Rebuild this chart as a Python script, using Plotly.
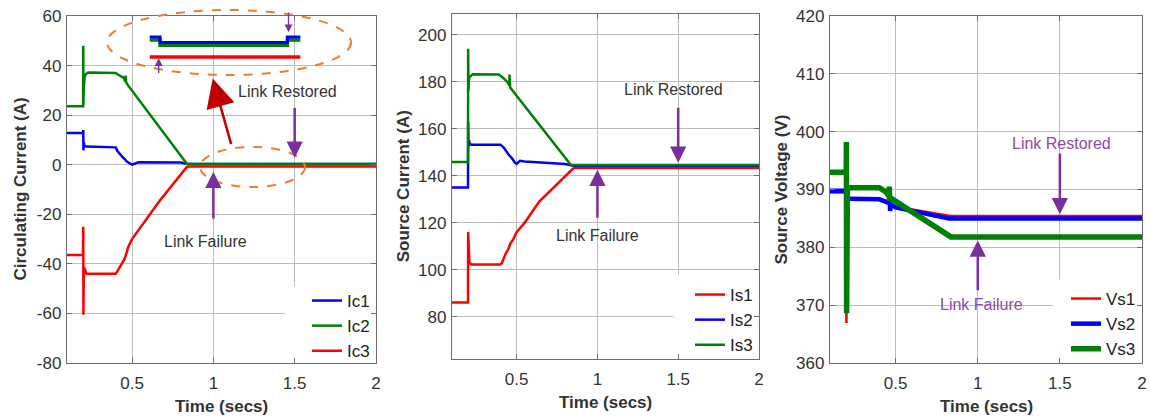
import plotly.graph_objects as go

# ---------------- data ----------------
# Circulating currents (A)
t_ic1 = [0.10, 0.199, 0.200, 0.201, 0.203, 0.208, 0.22, 0.40, 0.41, 0.43, 0.455, 0.47, 0.50, 0.52, 0.54, 0.80, 0.84, 2.00]
ic1 = [12.8, 12.8, 14.0, 5.8, 9.0, 7.5, 7.3, 7.0, 5.5, 4.0, 2.5, 1.2, 0.0, 0.6, 1.0, 0.9, 0.3, 0.3]

t_ic2 = [0.10, 0.199, 0.200, 0.201, 0.203, 0.208, 0.215, 0.23, 0.40, 0.41, 0.45, 0.458, 0.460, 0.463, 0.47, 0.838, 2.00]
ic2 = [23.6, 23.6, 48.0, 24.0, 31.0, 35.0, 36.5, 37.2, 37.0, 36.5, 35.0, 33.5, 36.0, 33.5, 32.5, 0.3, 0.3]

t_ic3 = [0.10, 0.199, 0.200, 0.201, 0.203, 0.206, 0.21, 0.22, 0.40, 0.41, 0.43, 0.45, 0.46, 0.475, 0.50, 0.67, 0.836, 0.85, 2.00]
ic3 = [-36.4, -36.4, -25.0, -60.5, -45.0, -41.5, -42.5, -44.0, -44.0, -43.0, -40.5, -38.5, -37.0, -33.5, -30.0, -14.5, -1.0, -0.7, -0.7]

# magnified view of the 0.9 s - 1.6 s window, drawn at the top of the first panel
t_zoom = [0.609, 0.672, 0.672, 1.455, 1.455, 1.535]
ic1_zoom = [51.5, 51.5, 49.3, 49.3, 51.5, 51.5]
ic2_zoom = [50.3, 50.3, 48.2, 48.2, 50.3, 50.3]
t_zoom3 = [0.609, 1.535]
ic3_zoom = [43.5, 43.5]

# Source currents (A)
t_is1 = [0.10, 0.199, 0.200, 0.203, 0.208, 0.22, 0.40, 0.41, 0.43, 0.45, 0.46, 0.48, 0.50, 0.55, 0.64, 0.849, 0.86, 2.00]
is1 = [86.0, 86.0, 116.0, 106.0, 103.0, 102.2, 102.2, 103.0, 106.5, 109.0, 111.0, 113.0, 116.0, 120.0, 129.0, 143.0, 143.3, 143.3]

t_is2 = [0.10, 0.199, 0.200, 0.202, 0.206, 0.21, 0.22, 0.40, 0.42, 0.45, 0.47, 0.49, 0.50, 0.52, 0.55, 0.80, 0.85, 2.00]
is2 = [135.0, 135.0, 163.0, 152.0, 155.0, 153.5, 153.2, 153.2, 152.0, 149.0, 147.5, 145.5, 145.0, 146.3, 146.0, 145.0, 144.2, 144.2]

t_is3 = [0.10, 0.199, 0.200, 0.202, 0.204, 0.208, 0.22, 0.23, 0.39, 0.41, 0.44, 0.455, 0.456, 0.458, 0.46, 0.836, 2.00]
is3 = [145.8, 145.8, 194.0, 176.0, 180.0, 182.0, 182.8, 183.2, 183.0, 182.0, 180.0, 178.5, 183.0, 177.5, 177.5, 144.5, 144.5]

# Source voltages (V)
t_vs1 = [0.10, 0.199, 0.200, 0.202, 0.206, 0.22, 0.40, 0.45, 0.47, 0.50, 0.83, 2.00]
vs1 = [389.5, 389.5, 366.9, 386.0, 388.5, 388.5, 388.4, 387.9, 387.5, 387.0, 385.4, 385.4]

t_vs2 = [0.10, 0.199, 0.200, 0.202, 0.206, 0.22, 0.40, 0.465, 0.466, 0.468, 0.47, 0.50, 0.825, 2.00]
vs2 = [389.8, 389.8, 386.0, 389.0, 388.4, 388.4, 388.3, 387.6, 386.3, 387.5, 387.4, 386.9, 385.0, 385.0]

t_vs3 = [0.10, 0.199, 0.200, 0.201, 0.203, 0.206, 0.22, 0.40, 0.44, 0.46, 0.461, 0.463, 0.465, 0.836, 2.00]
vs3 = [393.0, 393.0, 398.2, 368.6, 388.0, 390.3, 390.3, 390.3, 389.6, 388.8, 390.5, 388.0, 388.6, 381.8, 381.8]

x_ticks = [0.5, 1, 1.5, 2]
x_tick_text = ["0.5", "1", "1.5", "2"]
y1_ticks = [-80, -60, -40, -20, 0, 20, 40, 60]
y1_tick_text = ["-80", "-60", "-40", "-20", "0", "20", "40", "60"]
y2_ticks = [80, 100, 120, 140, 160, 180, 200]
y2_tick_text = ["80", "100", "120", "140", "160", "180", "200"]
y3_ticks = [360, 370, 380, 390, 400, 410, 420]
y3_tick_text = ["360", "370", "380", "390", "400", "410", "420"]

BLUE, GREEN, RED = "#0000ff", "#008000", "#ff0000"
PURPLE = "#7b2f9e"
ORANGE = "#ed7d31"
TEXT = "#333333"
W, H = 1150, 417
FONT = "Liberation Sans, Arial, sans-serif"


def px(x):
    return x / W


def py(y):
    return 1 - y / H


fig = go.Figure()


def line(t, v, name, color, width, xa, ya, legend="legend", show=True):
    fig.add_trace(go.Scatter(
        x=t, y=v, name=name, mode="lines",
        line=dict(color=color, width=width),
        xaxis=xa, yaxis=ya, showlegend=show, legend=legend,
    ))


# panel 1
line(t_ic1, ic1, "Ic1", BLUE, 2.5, "x", "y", "legend")
line(t_ic2, ic2, "Ic2", GREEN, 2.5, "x", "y", "legend")
line(t_ic3, ic3, "Ic3", RED, 2.5, "x", "y", "legend")
line(t_zoom, ic2_zoom, "Ic2 zoom", GREEN, 3.5, "x", "y", show=False)
line(t_zoom, ic1_zoom, "Ic1 zoom", BLUE, 3.0, "x", "y", show=False)
line(t_zoom3, ic3_zoom, "Ic3 zoom", RED, 3.5, "x", "y", show=False)

# panel 2
line(t_is1, is1, "Is1", RED, 2.5, "x2", "y2", "legend2")
line(t_is2, is2, "Is2", BLUE, 2.5, "x2", "y2", "legend2")
line(t_is3, is3, "Is3", GREEN, 2.5, "x2", "y2", "legend2")

# panel 3
line(t_vs1, vs1, "Vs1", RED, 2.5, "x3", "y3", "legend3")
line(t_vs2, vs2, "Vs2", BLUE, 4.5, "x3", "y3", "legend3")
line(t_vs3, vs3, "Vs3", GREEN, 5.5, "x3", "y3", "legend3")

axis_common = dict(
    showline=True, mirror="ticks", linecolor="#6e6e6e", linewidth=1.3,
    showgrid=True, gridcolor="#bdbdbd", gridwidth=1,
    ticks="inside", ticklen=5, tickcolor="#6e6e6e",
    tickfont=dict(family=FONT, size=17, color=TEXT),
    zeroline=False, automargin=False,
)

x_domains = [(67, 376), (452, 759), (830, 1142)]
y_domains = [(16, 363), (13.5, 359), (16, 363)]
y_ranges = [(-80, 60), (62, 209), (360, 420)]
y_tickvals = [y1_ticks, y2_ticks, y3_ticks]
y_ticktext = [y1_tick_text, y2_tick_text, y3_tick_text]
y_titles = ["Circulating Current (A)", "Source Current (A)", "Source Voltage (V)"]
y_title_x = [20, 403, 781]

for i in range(3):
    sfx = "" if i == 0 else str(i + 1)
    fig.update_layout(**{
        "xaxis" + sfx: dict(
            axis_common, domain=[px(x_domains[i][0]), px(x_domains[i][1])],
            range=[0.1, 2], tickvals=x_ticks, ticktext=x_tick_text,
            anchor="y" + sfx, ticklabelstandoff=4,
        ),
        "yaxis" + sfx: dict(
            axis_common, domain=[py(y_domains[i][1]), py(y_domains[i][0])],
            range=list(y_ranges[i]), tickvals=y_tickvals[i],
            ticktext=y_ticktext[i], anchor="x" + sfx, ticklabelstandoff=1,
        ),
    })

annotations = []

# axis titles
for i in range(3):
    x0, x1 = x_domains[i]
    y0, y1 = y_domains[i]
    annotations.append(dict(
        xref="paper", yref="paper", x=px((x0 + x1) / 2), y=py(y1 + 43),
        text="<b>Time (secs)</b>", showarrow=False,
        xanchor="center", yanchor="middle",
        font=dict(family=FONT, size=17, color=TEXT),
    ))
    annotations.append(dict(
        xref="paper", yref="paper", x=px(y_title_x[i]), y=py((y0 + y1) / 2),
        text="<b>" + y_titles[i] + "</b>", showarrow=False, textangle=-90,
        xanchor="center", yanchor="middle",
        font=dict(family=FONT, size=17, color=TEXT),
    ))

# legends (white patches hide the grid behind them)
legend_common = dict(
    bgcolor="rgba(255,255,255,0)", borderwidth=0, xanchor="right",
    yanchor="bottom", font=dict(family=FONT, size=17, color="#222222"),
    itemwidth=30, tracegroupgap=0,
)
fig.update_layout(
    legend=dict(legend_common, x=px(375), y=py(369)),
    legend2=dict(legend_common, x=px(758), y=py(363)),
    legend3=dict(legend_common, x=px(1141), y=py(367)),
)
fig.add_shape(type="rect", xref="x", yref="y", layer="between",
              x0=1.44, x1=2.0, y0=-80, y1=-49,
              fillcolor="white", line=dict(width=0))
fig.add_shape(type="rect", xref="x2", yref="y2", layer="between",
              x0=1.47, x1=2.0, y0=62, y1=98,
              fillcolor="white", line=dict(width=0))
fig.add_shape(type="rect", xref="x3", yref="y3", layer="between",
              x0=1.46, x1=2.0, y0=360, y1=374.5,
              fillcolor="white", line=dict(width=0))

# dashed ellipses
fig.add_shape(type="circle", xref="paper", yref="paper",
              x0=px(107), x1=px(351), y0=py(75), y1=py(10),
              line=dict(color=ORANGE, width=2, dash="dash"))
fig.add_shape(type="circle", xref="paper", yref="paper",
              x0=px(200), x1=px(305), y0=py(187), y1=py(147),
              line=dict(color=ORANGE, width=2, dash="dash"))


def arrow(xa, ya, x, y, ax, ay, color, width=2.5, size=1.3):
    annotations.append(dict(
        xref=xa, yref=ya, axref=xa, ayref=ya, x=x, y=y, ax=ax, ay=ay,
        text="", showarrow=True, arrowhead=2, arrowsize=size,
        arrowwidth=width, arrowcolor=color,
    ))


def label(xa, ya, x, y, text, color=TEXT):
    annotations.append(dict(
        xref=xa, yref=ya, x=x, y=y, text=text, showarrow=False,
        font=dict(family=FONT, size=16, color=color),
    ))


# panel 1 annotations
arrow("x", "y", 0.996, 34.8, 1.112, 7.7, "#c00000", width=2.5, size=2.3)
arrow("x", "y", 1.5, 2.8, 1.5, 23.5, PURPLE)
arrow("x", "y", 1.0, -2.8, 1.0, -22.3, PURPLE)
arrow("x", "y", 1.462, 53.4, 1.462, 62.0, PURPLE, width=1.3, size=1.2)
arrow("x", "y", 0.664, 43.0, 0.664, 36.4, PURPLE, width=1.3, size=1.2)
label("x", "y", 1.456, 29.6, "Link Restored")
label("x", "y", 0.953, -31.0, "Link Failure")

# panel 2 annotations
arrow("x2", "y2", 1.5, 145.5, 1.5, 169.5, PURPLE)
arrow("x2", "y2", 1.0, 142.5, 1.0, 121.5, PURPLE)
label("x2", "y2", 1.47, 176.5, "Link Restored")
label("x2", "y2", 1.0, 114.5, "Link Failure")

# panel 3 annotations
arrow("x3", "y3", 1.5, 385.7, 1.5, 396.5, PURPLE)
arrow("x3", "y3", 1.0, 381.2, 1.0, 372.3, PURPLE)
label("x3", "y3", 1.51, 398.0, "Link Restored", "#8a4aad")
label("x3", "y3", 1.02, 370.2, "Link Failure", "#8a4aad")

fig.update_layout(
    annotations=annotations,
    width=W, height=H,
    margin=dict(l=0, r=0, t=0, b=0),
    paper_bgcolor="white", plot_bgcolor="white",
    font=dict(family=FONT),
)

fig.write_html("out.html")
